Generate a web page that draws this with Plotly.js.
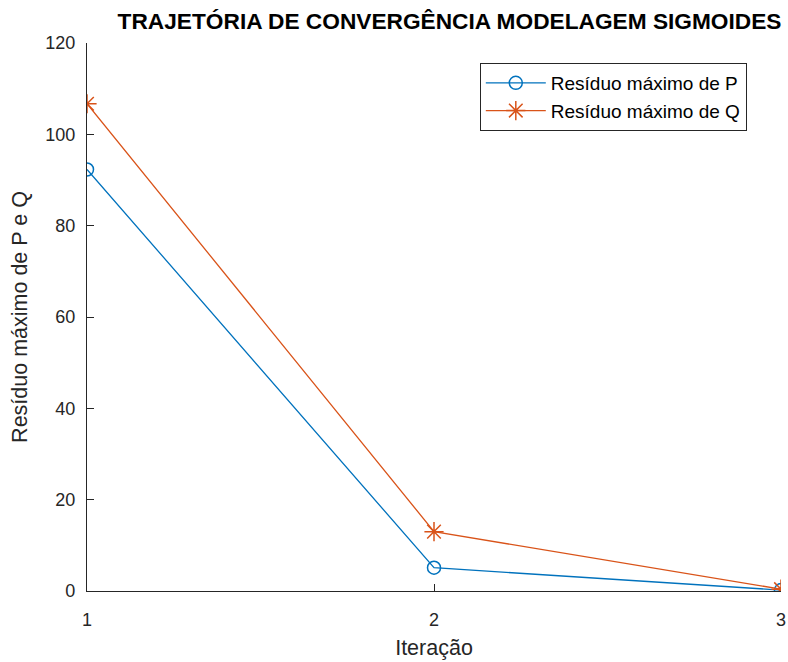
<!DOCTYPE html>
<html><head><meta charset="utf-8">
<script src="https://cdn.plot.ly/plotly-3.0.1.min.js"></script>
<style>body{margin:0;background:#fff}#c{width:788px;height:662px}</style>
</head><body><div id="c"></div>
<script>
const iteracoes = [1, 2, 3];
const residuoP = [92.3, 5.1, 0.2];
const residuoQ = [106.7, 13.0, 0.4];
const xTicks = [1, 2, 3];
const yTicks = [0, 20, 40, 60, 80, 100, 120];

const font = 'Liberation Sans, Arial, sans-serif';
const traces = [
  {x: iteracoes, y: residuoP, name: 'Resíduo máximo de P', mode: 'lines+markers', type: 'scatter',
   line: {color: '#0072BD', width: 1.3}, marker: {symbol: 'circle-open', size: 13, color: '#0072BD', line: {width: 1.5}}},
  {x: iteracoes, y: residuoQ, name: 'Resíduo máximo de Q', mode: 'lines+markers', type: 'scatter',
   line: {color: '#D95319', width: 1.3}, marker: {symbol: 'asterisk-open', size: 16, color: '#D95319', line: {width: 1.5, color: '#D95319'}}}
];
const layout = {
  width: 788, height: 662,
  margin: {l: 87, r: 7, t: 43, b: 71},
  paper_bgcolor: '#fff', plot_bgcolor: '#fff',
  font: {family: font, color: '#262626'},
  title: {text: '<b>TRAJETÓRIA DE CONVERGÊNCIA MODELAGEM SIGMOIDES</b>', font: {size: 22.7, color: '#000', family: font}, x: 0.5705, xanchor: 'center', y: 0.968, yanchor: 'middle'},
  xaxis: {range: [1, 3], tickvals: xTicks, ticktext: xTicks.map(String), ticks: 'inside', ticklen: 7, tickcolor: '#262626', tickwidth: 1.2,
    showline: true, linecolor: '#262626', linewidth: 1.3, showgrid: false, zeroline: false, mirror: false, ticklabelstandoff: 12,
    tickfont: {size: 18, color: '#262626'}, title: {text: 'Iteração', font: {size: 21.5, color: '#262626'}, standoff: 11}},
  yaxis: {range: [0, 120], tickvals: yTicks, ticks: 'inside', ticklen: 7, tickcolor: '#262626', tickwidth: 1.2,
    showline: true, linecolor: '#262626', linewidth: 1.3, showgrid: false, zeroline: false, ticklabelstandoff: 7,
    tickfont: {size: 18, color: '#262626'}, title: {text: 'Resíduo máximo de P e Q', font: {size: 21.5, color: '#262626'}, standoff: 11}},
  legend: {x: 0.566, y: 0.9635, xanchor: 'left', yanchor: 'top', bordercolor: '#262626', borderwidth: 1, bgcolor: '#fff',
    font: {size: 19, color: '#000'}, tracegroupgap: 0, itemwidth: 60},
  showlegend: true
};
Plotly.newPlot('c', traces, layout, {displayModeBar: false});
</script></body></html>
